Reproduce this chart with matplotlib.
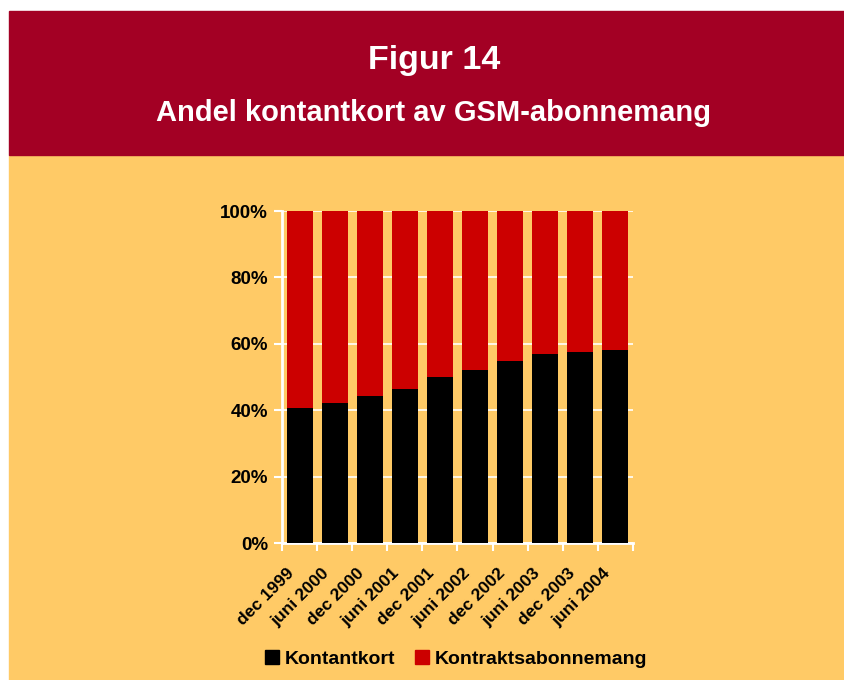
import matplotlib.pyplot as plt
from matplotlib.patches import Rectangle, Patch
from matplotlib.ticker import FuncFormatter
from matplotlib.transforms import ScaledTranslation

plt.rcParams['font.family'] = ['Liberation Sans', 'DejaVu Sans']

perioder = ["dec 1999", "juni 2000", "dec 2000", "juni 2001", "dec 2001",
            "juni 2002", "dec 2002", "juni 2003", "dec 2003", "juni 2004"]
kontantkort = [40.7, 42.2, 44.4, 46.3, 50.0, 52.0, 54.8, 57.0, 57.4, 58.1]
kontrakt = [100 - v for v in kontantkort]

rod_band = "#A30024"
bakgrund = "#FFCA66"
svart = "#000000"
rod = "#CC0000"

fig = plt.figure(figsize=(8.45, 6.8), dpi=100)
fig.patch.set_facecolor("white")

W, H = 845.0, 680.0
# orange area and red header band, behind everything
fig.patches.append(Rectangle((9 / W, 0), 1 - 9 / W, 1 - 155 / H,
                             transform=fig.transFigure, color=bakgrund, zorder=-10))
fig.patches.append(Rectangle((9 / W, 1 - 155 / H), 1 - 9 / W, 144 / H,
                             transform=fig.transFigure, color=rod_band, zorder=-10))

fig.text(434 / W, 1 - 60 / H, "Figur 14", color="white", fontsize=24.5,
         fontweight="bold", ha="center", va="center")
fig.text(434 / W, 1 - 113 / H, "Andel kontantkort av GSM-abonnemang", color="white",
         fontsize=21, fontweight="bold", ha="center", va="center")

ax = fig.add_axes([282 / W, 1 - 543 / H, 351 / W, 332 / H])
ax.set_facecolor("none")

x = list(range(len(perioder)))
ax.bar(x, kontantkort, width=0.74, color=svart, zorder=3)
ax.bar(x, kontrakt, bottom=kontantkort, width=0.74, color=rod, zorder=3)

ax.set_xlim(-0.5, len(perioder) - 0.5)
ax.set_ylim(0, 100)
ax.set_yticks([0, 20, 40, 60, 80, 100])
ax.yaxis.set_major_formatter(FuncFormatter(lambda v, p: "%d%%" % v))
ax.yaxis.grid(True, color="white", linewidth=1.2, zorder=1)
ax.set_axisbelow(True)

for s in ["top", "right"]:
    ax.spines[s].set_visible(False)
ax.spines["left"].set_color("white")
ax.spines["left"].set_linewidth(2)
ax.spines["bottom"].set_color("white")
ax.spines["bottom"].set_linewidth(2)

ax.tick_params(axis="y", colors="white", length=6, width=1.5, labelcolor="black",
               labelsize=13.5, pad=4)
for lab in ax.get_yticklabels():
    lab.set_fontweight("bold")

ax.set_xticks(x)
ax.set_xticklabels(perioder, rotation=45, ha="right", rotation_mode="anchor",
                   fontsize=12.5, fontweight="bold")
ax.tick_params(axis="x", which="major", length=0, pad=16)
ax.set_xticks([i - 0.5 for i in range(len(perioder) + 1)], minor=True)
ax.tick_params(axis="x", which="minor", length=6, width=1.5, colors="white")
shift = ScaledTranslation(-0.13, 0, fig.dpi_scale_trans)
for lab in ax.get_xticklabels():
    lab.set_transform(lab.get_transform() + shift)

handles = [Patch(color=svart, label="Kontantkort"),
           Patch(color=rod, label="Kontraktsabonnemang")]
leg = fig.legend(handles=handles, loc="center", bbox_to_anchor=(456 / W, 1 - 659 / H),
                 ncol=2, frameon=False, handlelength=0.72, handleheight=0.72,
                 handletextpad=0.3, columnspacing=1.0,
                 prop={"size": 14, "weight": "bold"})

fig.savefig("out.png", dpi=100)
